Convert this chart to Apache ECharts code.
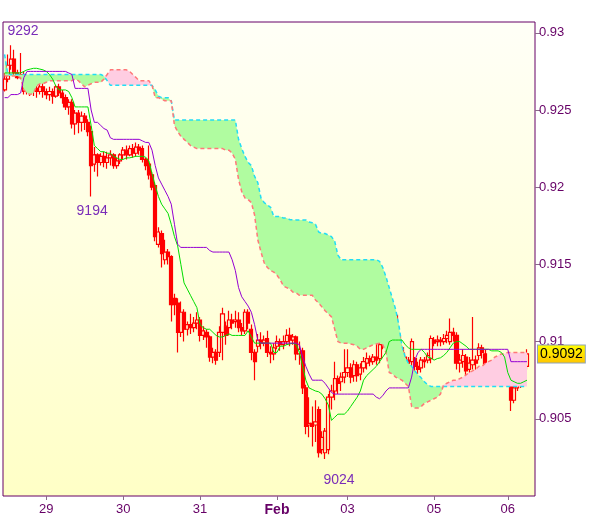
<!DOCTYPE html>
<html><head><meta charset="utf-8">
<script src="https://cdn.jsdelivr.net/npm/echarts@6/dist/echarts.min.js"></script>
<style>html,body{margin:0;padding:0;background:#fff}#c{width:600px;height:519px}</style>
</head><body><div id="c"></div>
<script>
const opens=[0.9263,0.9270,0.9279,0.9283,0.9274,0.9271,0.9273,0.9262,0.9268,0.9263,
0.9264,0.9262,0.9265,0.9262,0.9260,0.9262,0.9259,0.9265,0.9261,0.9258,
0.9252,0.9255,0.9241,0.9248,0.9242,0.9246,0.9242,0.9236,0.9215,0.9221,
0.9216,0.9220,0.9216,0.9219,0.9221,0.9214,0.9217,0.9221,0.9224,0.9221,
0.9225,0.9222,0.9226,0.9225,0.9218,0.9215,0.9208,0.9201,0.9163,0.9170,
0.9153,0.9158,0.9155,0.9128,0.9125,0.9106,0.9119,0.9108,0.9111,0.9109,
0.9112,0.9114,0.9104,0.9106,0.9103,0.9090,0.9093,0.9093,0.9106,0.9110,
0.9109,0.9114,0.9113,0.9114,0.9109,0.9107,0.9119,0.9108,0.9093,0.9097,
0.9101,0.9099,0.9102,0.9093,0.9092,0.9097,0.9100,0.9098,0.9100,0.9104,
0.9101,0.9103,0.9092,0.9094,0.9070,0.9046,0.9047,0.9046,0.9056,0.9030,
0.9028,0.9030,0.9064,0.9068,0.9076,0.9074,0.9077,0.9080,0.9083,0.9078,
0.9085,0.9079,0.9083,0.9086,0.9089,0.9087,0.9090,0.9089,0.9098,0.9106,
0.9104,0.9108,0.9117,0.9103,0.9096,0.9090,0.9088,0.9087,0.9089,0.9084,
0.9083,0.9088,0.9088,0.9089,0.9101,0.9100,0.9101,0.9100,0.9102,0.9100,
0.9106,0.9104,0.9086,0.9087,0.9090,0.9082,0.9085,0.9088,0.9091,0.9096,
0.9092,0.9080,0.9082,0.9081,0.9084,0.9082,0.9083,0.9078,0.9071,0.9062,
0.9070,0.9072,0.9075,0.9084];
const closes=[0.9270,0.9279,0.9283,0.9274,0.9271,0.9273,0.9262,0.9268,0.9263,0.9264,
0.9262,0.9265,0.9262,0.9260,0.9262,0.9259,0.9265,0.9261,0.9258,0.9252,
0.9255,0.9241,0.9248,0.9242,0.9246,0.9242,0.9236,0.9214,0.9221,0.9216,
0.9220,0.9216,0.9219,0.9221,0.9214,0.9217,0.9221,0.9224,0.9221,0.9225,
0.9222,0.9226,0.9224,0.9218,0.9214,0.9208,0.9200,0.9168,0.9171,0.9157,
0.9158,0.9155,0.9124,0.9124,0.9106,0.9119,0.9108,0.9111,0.9109,0.9112,
0.9114,0.9104,0.9107,0.9103,0.9090,0.9093,0.9088,0.9106,0.9118,0.9104,
0.9114,0.9112,0.9114,0.9109,0.9107,0.9119,0.9112,0.9093,0.9087,0.9101,
0.9099,0.9101,0.9093,0.9092,0.9096,0.9100,0.9098,0.9100,0.9104,0.9101,
0.9103,0.9092,0.9095,0.9070,0.9045,0.9047,0.9045,0.9048,0.9028,0.9038,
0.9042,0.9064,0.9068,0.9076,0.9073,0.9077,0.9080,0.9083,0.9077,0.9085,
0.9078,0.9083,0.9087,0.9089,0.9087,0.9090,0.9088,0.9098,0.9106,0.9103,
0.9109,0.9116,0.9102,0.9095,0.9090,0.9087,0.9086,0.9100,0.9084,0.9082,
0.9088,0.9087,0.9091,0.9102,0.9099,0.9101,0.9100,0.9102,0.9104,0.9106,
0.9104,0.9086,0.9088,0.9091,0.9081,0.9086,0.9088,0.9086,0.9096,0.9093,
0.9080,0.9082,0.9080,0.9084,0.9082,0.9083,0.9078,0.9076,0.9062,0.9070,
0.9072,0.9076,0.9082,0.9092];
const highs=[0.9274,0.9286,0.9292,0.9289,0.9276,0.9287,0.9275,0.9272,0.9270,0.9267,
0.9266,0.9270,0.9268,0.9264,0.9265,0.9264,0.9266,0.9267,0.9263,0.9260,
0.9257,0.9257,0.9250,0.9250,0.9249,0.9248,0.9244,0.9240,0.9226,0.9222,
0.9222,0.9223,0.9223,0.9224,0.9222,0.9219,0.9222,0.9226,0.9227,0.9227,
0.9228,0.9229,0.9228,0.9227,0.9219,0.9227,0.9210,0.9203,0.9174,0.9172,
0.9166,0.9160,0.9156,0.9131,0.9128,0.9126,0.9121,0.9113,0.9118,0.9116,
0.9119,0.9116,0.9110,0.9108,0.9104,0.9096,0.9095,0.9110,0.9122,0.9113,
0.9120,0.9118,0.9120,0.9119,0.9112,0.9121,0.9121,0.9111,0.9095,0.9105,
0.9106,0.9104,0.9107,0.9097,0.9099,0.9104,0.9102,0.9104,0.9108,0.9109,
0.9105,0.9104,0.9100,0.9096,0.9072,0.9064,0.9058,0.9062,0.9058,0.9042,
0.9044,0.9066,0.9072,0.9087,0.9078,0.9080,0.9095,0.9095,0.9086,0.9088,
0.9087,0.9086,0.9090,0.9093,0.9091,0.9092,0.9100,0.9102,0.9110,0.9108,
0.9112,0.9119,0.9118,0.9106,0.9098,0.9093,0.9090,0.9102,0.9090,0.9087,
0.9090,0.9090,0.9093,0.9104,0.9103,0.9104,0.9103,0.9105,0.9107,0.9115,
0.9109,0.9106,0.9092,0.9095,0.9092,0.9090,0.9116,0.9091,0.9099,0.9098,
0.9095,0.9085,0.9086,0.9088,0.9086,0.9086,0.9085,0.9080,0.9074,0.9072,
0.9076,0.9079,0.9085,0.9095];
const lows=[0.9262,0.9268,0.9276,0.9272,0.9270,0.9270,0.9260,0.9260,0.9259,0.9259,
0.9258,0.9260,0.9258,0.9257,0.9256,0.9254,0.9258,0.9259,0.9254,0.9250,
0.9247,0.9238,0.9234,0.9235,0.9236,0.9237,0.9233,0.9194,0.9210,0.9207,
0.9214,0.9213,0.9212,0.9214,0.9212,0.9212,0.9215,0.9218,0.9218,0.9220,
0.9219,0.9220,0.9221,0.9216,0.9211,0.9205,0.9198,0.9165,0.9161,0.9148,
0.9150,0.9150,0.9113,0.9117,0.9093,0.9103,0.9100,0.9104,0.9105,0.9106,
0.9108,0.9100,0.9101,0.9096,0.9087,0.9086,0.9085,0.9090,0.9088,0.9098,
0.9104,0.9108,0.9109,0.9106,0.9104,0.9105,0.9108,0.9088,0.9075,0.9093,
0.9095,0.9097,0.9090,0.9086,0.9088,0.9095,0.9094,0.9095,0.9098,0.9097,
0.9098,0.9088,0.9085,0.9066,0.9040,0.9038,0.9032,0.9035,0.9025,0.9027,
0.9024,0.9027,0.9056,0.9062,0.9066,0.9068,0.9073,0.9077,0.9073,0.9074,
0.9074,0.9075,0.9080,0.9082,0.9084,0.9085,0.9085,0.9086,0.9095,0.9097,
0.9100,0.9105,0.9098,0.9090,0.9085,0.9083,0.9082,0.9084,0.9072,0.9079,
0.9080,0.9083,0.9086,0.9086,0.9097,0.9097,0.9097,0.9098,0.9099,0.9098,
0.9100,0.9082,0.9080,0.9083,0.9078,0.9078,0.9082,0.9080,0.9088,0.9089,
0.9076,0.9076,0.9077,0.9078,0.9078,0.9079,0.9075,0.9072,0.9055,0.9060,
0.9068,0.9070,0.9073,0.9082];
const tenkan=[0.9274,0.9274,0.9274,0.9274,0.9274,0.9274,0.9275,0.9276,0.92765,0.9277,
0.9277,0.92765,0.9276,0.9275,0.9273,0.9270,0.92655,0.9263,0.9263,0.9263,
0.9262,0.9258,0.9252,0.9252,0.9252,0.9252,0.9252,0.9240,0.9227,0.9225,
0.9223,0.9223,0.9222,0.9222,0.9220,0.9219,0.9218,0.9218,0.9219,0.9219,
0.92195,0.9220,0.9220,0.9220,0.92195,0.9217,0.9209,0.9201,0.9194,0.9189,
0.9186,0.9183,0.9176,0.9168,0.9162,0.9150,0.9138,0.9134,0.9130,0.9126,
0.9122,0.9111,0.9109,0.9108,0.9108,0.9106,0.9104,0.9103,0.9103,0.9104,
0.9105,0.9104,0.9104,0.9104,0.9104,0.9104,0.9107,0.9103,0.9099,0.9099,
0.9099,0.9099,0.9099,0.9099,0.9093,0.9093,0.9097,0.9097,0.9098,0.90985,
0.9099,0.9098,0.9093,0.9084,0.9075,0.9070,0.9069,0.9068,0.90675,0.9066,
0.9063,0.9059,0.9049,0.9051,0.9053,0.9053,0.9053,0.9055,0.9058,0.9061,
0.9064,0.9068,0.9075,0.9078,0.9080,0.9082,0.9084,0.9087,0.9090,0.9093,
0.9100,0.9101,0.9101,0.9101,0.9101,0.9098,0.9096,0.9095,0.9095,0.9095,
0.9095,0.9093,0.9090,0.90895,0.9088,0.9089,0.90895,0.9091,0.9093,0.9096,
0.9099,0.9100,0.9100,0.90985,0.9097,0.9095,0.9095,0.9095,0.9095,0.9095,
0.9095,0.9095,0.9094,0.9094,0.9094,0.9093,0.9090,0.9080,0.9075,0.9074,
0.9073,0.9073,0.9074,0.9075];
const kijun=[0.9258,0.9258,0.9260,0.9260,0.9260,0.9261,0.9271,0.9275,0.9275,0.9275,
0.9275,0.9275,0.9275,0.9275,0.9275,0.9275,0.9275,0.9275,0.9275,0.9275,
0.9274,0.9273,0.9264,0.9264,0.9264,0.9264,0.9264,0.9250,0.9242,0.9242,
0.9240,0.9238,0.9237,0.9232,0.9231,0.9231,0.9231,0.9231,0.9231,0.9231,
0.9231,0.9231,0.9231,0.9230,0.9229,0.9229,0.9224,0.9214,0.9206,0.9202,
0.9198,0.9194,0.9189,0.9176,0.9163,0.9161,0.9161,0.9161,0.9161,0.9161,
0.9161,0.9161,0.9161,0.9161,0.9159,0.9158,0.9158,0.9158,0.9158,0.9158,
0.9158,0.9153,0.9146,0.9135,0.9129,0.9126,0.9123,0.9119,0.9111,0.9101,
0.9099,0.9099,0.9099,0.9099,0.9099,0.9099,0.9099,0.9099,0.9099,0.9099,
0.9099,0.9099,0.9098,0.9090,0.9084,0.9079,0.9075,0.9075,0.9075,0.9075,
0.9073,0.9070,0.9067,0.9066,0.9066,0.9066,0.9066,0.9066,0.9066,0.9066,
0.9066,0.9066,0.9066,0.9066,0.9066,0.9066,0.9064,0.9063,0.9065,0.9068,
0.9070,0.9070,0.9070,0.9070,0.9070,0.9070,0.9070,0.9077,0.9088,0.9093,
0.9095,0.9095,0.9095,0.9095,0.9095,0.9095,0.9095,0.9095,0.9095,0.9095,
0.9095,0.9095,0.9095,0.9095,0.9095,0.9095,0.9095,0.9095,0.9095,0.9095,
0.9095,0.9095,0.9095,0.9095,0.9095,0.9095,0.9095,0.9095,0.9087,0.9087,
0.9087,0.9087,0.9087,0.9087];
const spanA=[0.9286,0.9273,0.9273,0.9273,0.9273,0.9273,0.9273,0.9273,0.9273,0.9273,
0.9273,0.9273,0.9273,0.9273,0.9273,0.9273,0.9273,0.9273,0.9273,0.9273,
0.9273,0.9273,0.9273,0.9273,0.9273,0.9273,0.9273,0.9273,0.9273,0.9273,
0.9273,0.9272,0.9269,0.9266,0.9266,0.9266,0.9266,0.9266,0.9266,0.9266,
0.9266,0.9266,0.9266,0.9266,0.9266,0.9266,0.9266,0.9263,0.9259,0.9258,
0.9258,0.9258,0.9256,0.92435,0.92435,0.92435,0.92435,0.92435,0.92435,0.92435,
0.92435,0.92435,0.92435,0.92435,0.92435,0.92435,0.92435,0.92435,0.92435,0.92435,
0.92435,0.92435,0.92435,0.9231,0.9225,0.9220,0.9216,0.9214,0.9207,0.9203,
0.9193,0.9190,0.91885,0.9187,0.9181,0.9181,0.9181,0.9180,0.9180,0.9179,
0.9179,0.91788,0.91788,0.91788,0.91788,0.91775,0.9177,0.9176,0.9171,0.9170,
0.9170,0.9169,0.9168,0.9165,0.9156,0.9153,0.9153,0.9153,0.9153,0.9153,
0.9153,0.9153,0.9153,0.9153,0.9153,0.9153,0.9153,0.9152,0.9148,0.9142,
0.9135,0.9128,0.9121,0.9111,0.9097,0.9090,0.9086,0.9084,0.9081,0.90785,
0.90765,0.9074,0.9072,0.9071,0.9071,0.9071,0.9071,0.9071,0.9071,0.9071,
0.9071,0.9071,0.9071,0.9071,0.9071,0.9071,0.9071,0.9071,0.9071,0.9071,
0.9071,0.9071,0.9071,0.9071,0.9071,0.9071,0.9071,0.9071,0.9071,0.9071,
0.9071,0.9071,0.9071,0.9071];
const spanB=[0.9272,0.9272,0.9272,0.9272,0.9272,0.9271,0.9263,0.9261,0.9260,0.9261,
0.92655,0.9267,0.9267,0.9268,0.9269,0.9269,0.9269,0.9269,0.9269,0.9269,
0.9269,0.9269,0.9270,0.9269,0.9267,0.9265,0.9266,0.9267,0.9268,0.9268,
0.9268,0.9270,0.9273,0.9276,0.9276,0.9276,0.9276,0.9276,0.9276,0.9275,
0.9273,0.9271,0.9269,0.9269,0.9269,0.9269,0.9266,0.9258,0.9258,0.9257,
0.9256,0.9256,0.9256,0.9240,0.9236,0.9233,0.9231,0.9229,0.9227,0.9226,
0.9225,0.9225,0.9225,0.9225,0.9225,0.9225,0.9225,0.9225,0.9225,0.9224,
0.9224,0.9222,0.9218,0.9205,0.9197,0.9193,0.9192,0.9190,0.9182,0.9166,
0.9158,0.9151,0.9148,0.9146,0.9145,0.9143,0.9140,0.9136,0.9135,0.9134,
0.9132,0.91315,0.9130,0.9130,0.9130,0.9130,0.9130,0.9127,0.9125,0.91225,
0.9120,0.9118,0.9116,0.9108,0.9100,0.9099,0.9099,0.9099,0.90985,0.9098,
0.9097,0.9095,0.9095,0.9096,0.9097,0.9098,0.90985,0.9099,0.9098,0.9093,
0.9080,0.9079,0.9077,0.9076,0.9075,0.9073,0.9071,0.9058,0.9057,0.9057,
0.9058,0.9060,0.9061,0.9062,0.9063,0.9064,0.9066,0.9072,0.9073,0.9074,
0.9075,0.9075,0.9076,0.9077,0.90785,0.9080,0.9081,0.9082,0.9084,0.9084,
0.9086,0.9087,0.9088,0.9090,0.9091,0.9092,0.9092,0.9093,0.9093,0.9093,
0.9093,0.9093,0.9093,0.9093];
const dayIdx=[13,37,61,85,107,134,157];
const dayLabels=['29','30','31','Feb','03','05','06'];
const yTicks={min:0.9,max:0.9307,step:0.005};
const annIdx=[2,27,100];
const annUseHigh=[true,false,false];
const annOffset=[[12,-14],[1,15],[14,21]];
const SLOTS=166;

const cats=[];for(let i=0;i<SLOTS;i++)cats.push(String(i));
const cloudLow=spanA.map((a,i)=>Math.min(a,spanB[i]));
const cloudGreen=spanA.map((a,i)=>Math.max(a-spanB[i],0));
const cloudPink=spanA.map((a,i)=>Math.max(spanB[i]-a,0));
const candles=opens.map((o,i)=>[o,closes[i],lows[i],highs[i]]);
const FONT="'Liberation Sans', Arial, sans-serif";
const last=closes[closes.length-1];

const chart=echarts.init(document.getElementById('c'),null,{renderer:'canvas'});
const noLine={width:0,opacity:0};
chart.setOption({
  animation:false,
  textStyle:{fontFamily:FONT},
  grid:{left:3,right:65,top:22,bottom:23,show:true,borderColor:'#660066',borderWidth:1,
    backgroundColor:new echarts.graphic.LinearGradient(0,0,0,1,[{offset:0,color:'#fffff7'},{offset:1,color:'#ffffc6'}])},
  xAxis:{type:'category',data:cats,boundaryGap:true,
    axisLine:{show:false},
    axisTick:{show:true,alignWithLabel:true,length:4,interval:(i)=>dayIdx.includes(i),lineStyle:{color:'#8a6a8a'}},
    axisLabel:{interval:(i)=>dayIdx.includes(i),color:'#660066',fontSize:13,fontFamily:FONT,margin:7,
      formatter:(v,i)=>{const k=dayIdx.indexOf(i);if(k<0)return '';return dayLabels[k]==='Feb'?'{b|Feb}':dayLabels[k];},
      rich:{b:{fontWeight:'bold',color:'#660066',fontSize:14,fontFamily:FONT}}},
    splitLine:{show:false}},
  yAxis:{type:'value',position:'right',min:yTicks.min,max:yTicks.max,interval:yTicks.step,
    axisLine:{show:false},
    axisTick:{show:true,length:5,lineStyle:{color:'#8a6a8a'}},
    axisLabel:{color:'#660066',fontSize:13,fontFamily:FONT,margin:4,showMinLabel:false,showMaxLabel:false,
      formatter:v=>String(parseFloat(v.toFixed(3)))},
    splitLine:{show:false}},
  series:[
    {type:'line',data:cloudLow,stack:'cloud',symbol:'none',lineStyle:noLine,silent:true},
    {type:'line',data:cloudGreen,stack:'cloud',symbol:'none',lineStyle:noLine,silent:true,areaStyle:{color:'#b0fca0',opacity:1}},
    {type:'line',data:cloudPink,stack:'cloud',symbol:'none',lineStyle:noLine,silent:true,areaStyle:{color:'#ffcde2',opacity:1}},
    {type:'line',data:spanA,symbol:'none',silent:true,lineStyle:{color:'#22ddf5',width:1.5,type:[4,3]}},
    {type:'line',data:spanB,symbol:'none',silent:true,lineStyle:{color:'#ff7878',width:1.5,type:[4,3]}},
    {type:'candlestick',data:candles,barWidth:3.6,silent:true,
      itemStyle:{color:'rgba(0,0,0,0)',color0:'#ff0000',borderColor:'#ff0000',borderColor0:'#ff0000',borderColorDoji:'#ff0000',borderWidth:1.2},
      markPoint:{symbol:'circle',symbolSize:0,silent:true,
        label:{show:true,color:'#7a2db8',fontSize:14,fontFamily:FONT,formatter:p=>String(Math.round(p.value*10000))},
        data:annIdx.map((idx,k)=>{const v=annUseHigh[k]?highs[idx]:lows[idx];return {coord:[idx,v],value:v,label:{offset:annOffset[k]}};})},
      markLine:{symbol:['none','none'],silent:true,precision:4,lineStyle:{color:'rgba(0,0,0,0)',width:1,type:'solid'},
        label:{show:true,position:'end',distance:3,formatter:p=>Number(p.value).toFixed(4),color:'#000',fontSize:14,fontFamily:FONT,
          backgroundColor:new echarts.graphic.LinearGradient(0,0,0,1,[{offset:0,color:'#ffff00'},{offset:1,color:'#ffc400'}]),
          borderColor:'#8fa3b8',borderWidth:1,padding:[2,2,1,2]},
        data:[{yAxis:last}]}},
    {type:'line',data:tenkan,symbol:'none',silent:true,lineStyle:{color:'#00dd00',width:1}},
    {type:'line',data:kijun,symbol:'none',silent:true,lineStyle:{color:'#9400d3',width:1}}
  ]
});
</script></body></html>
